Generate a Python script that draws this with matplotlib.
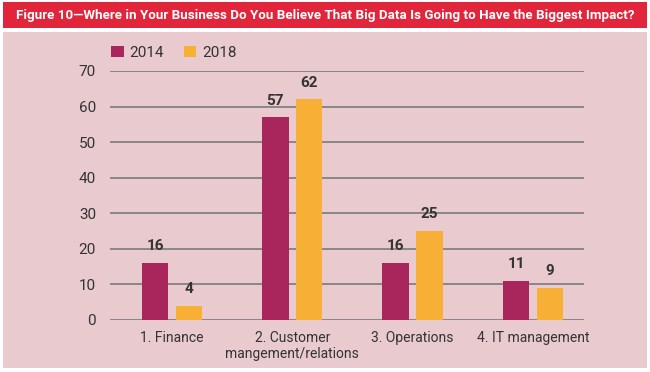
import numpy as np
import matplotlib.pyplot as plt
from matplotlib.patches import Rectangle

plt.rcParams['font.family'] = ['Roboto', 'DejaVu Sans']

categories = ['1. Finance', '2. Customer\nmangement/relations', '3. Operations', '4. IT management']
years = ['2014', '2018']
vals_2014 = [16, 57, 16, 11]
vals_2018 = [4, 62, 25, 9]
yticks = [0, 10, 20, 30, 40, 50, 60, 70]

title = 'Figure 10\u2014Where in Your Business Do You Believe That Big Data Is Going to Have the Biggest Impact?'

col_2014 = '#a8265b'
col_2018 = '#f7b035'
pink = '#e8cacf'
red = '#e1253b'
txt = '#333333'

fig = plt.figure(figsize=(6.5, 3.72), dpi=100)
fig.patch.set_facecolor('white')

# title bar and pink panel, kept behind the axes
fig.patches.append(Rectangle((0.005, 0.925), 0.99, 0.07, transform=fig.transFigure,
                             facecolor=red, edgecolor='none', zorder=-2))
fig.patches.append(Rectangle((0.005, 0.01), 0.99, 0.905, transform=fig.transFigure,
                             facecolor=pink, edgecolor='none', zorder=-2))
fig.text(0.5, 0.959, title, ha='center', va='center', color='white',
         fontsize=9.6, fontweight='bold')

ax = fig.add_axes([0.1692, 0.1398, 0.7292, 0.6694])
ax.set_facecolor('none')

x = np.arange(len(categories))
w = 0.22
off = 0.141
b1 = ax.bar(x - off, vals_2014, w, color=col_2014, zorder=3, label=years[0])
b2 = ax.bar(x + off, vals_2018, w, color=col_2018, zorder=3, label=years[1])

for bars, vals in [(b1, vals_2014), (b2, vals_2018)]:
    for b, v in zip(bars, vals):
        ax.annotate(str(v), (b.get_x() + b.get_width() / 2, v), xytext=(0, 7),
                    textcoords='offset points', ha='center', va='bottom',
                    fontsize=11, fontweight='bold', color=txt)

ax.set_xlim(-0.515, 3.424)
ax.set_ylim(0, 70)
ax.set_yticks(yticks)
ax.set_xticks(x)
ax.set_xticklabels(categories, fontsize=10, color=txt)
ax.tick_params(axis='y', length=0, pad=10, labelsize=11, labelcolor=txt)
ax.tick_params(axis='x', length=0, pad=8)
ax.grid(axis='y', color='#7a7a7a', linewidth=1.2, zorder=1)
ax.set_axisbelow(True)
for s in ax.spines.values():
    s.set_visible(False)

leg = ax.legend(loc='lower left', bbox_to_anchor=(-0.01, 1.02), ncol=2, frameon=False,
                fontsize=11, handlelength=0.8, handleheight=0.8, handletextpad=0.4,
                columnspacing=1.3, borderaxespad=0)
for t in leg.get_texts():
    t.set_color(txt)

fig.savefig('out.png', dpi=100, facecolor=fig.get_facecolor())
